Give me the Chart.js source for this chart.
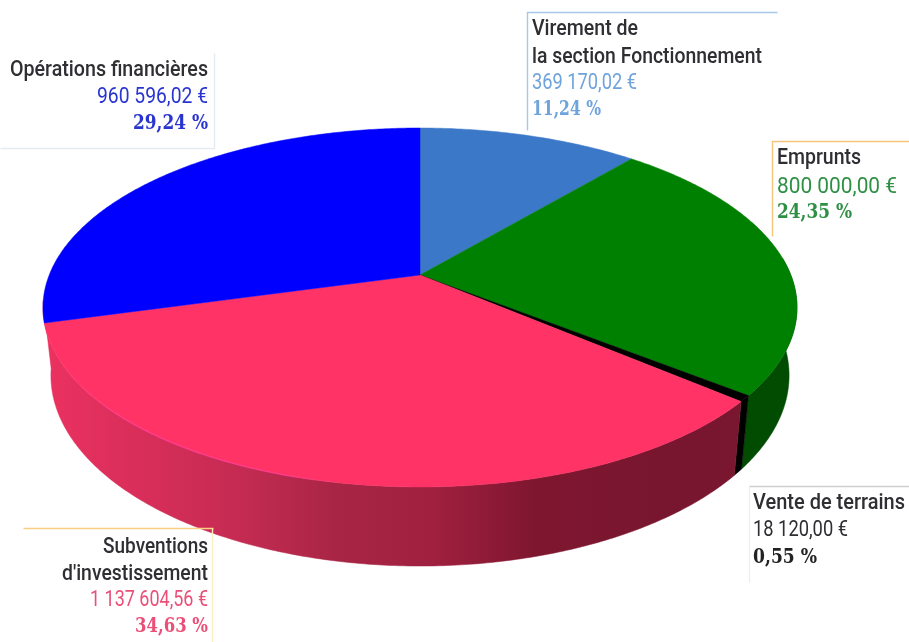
<!DOCTYPE html>
<html lang="fr">
<head>
<meta charset="utf-8">
<title>Recettes d'investissement</title>
<style>html,body{margin:0;padding:0;background:#fff}canvas{display:block}</style>
<script src="https://cdn.jsdelivr.net/npm/chart.js@4"></script>
</head>
<body>
<canvas id="c" width="909" height="642"></canvas>
<script>
const categories = ["Virement de la section Fonctionnement","Emprunts","Vente de terrains","Subventions d'investissement","Opérations financières"];
const values = [369170.02, 800000.00, 18120.00, 1137604.56, 960596.02];
const amountLabels = ["369 170,02 €","800 000,00 €","18 120,00 €","1 137 604,56 €","960 596,02 €"];
const percentLabels = ["11,24 %","24,35 %","0,55 %","34,63 %","29,24 %"];
const sliceColors = ["#3c78c8","#008000","#000000","#ff3366","#0000ff"];
const labelColors = ["#6fa3dc","#2f8f45","#222222","#ea4f78","#2a35d0"];

const nameLines = [["Virement de","la section Fonctionnement"],["Emprunts"],["Vente de terrains"],["Subventions","d'investissement"],["Opérations financières"]];
const labelBoxes = [
  {x:532,align:"left",y:[29,57,83,110],w:[106,230,105,69]},
  {x:777,align:"left",y:[158,187,213],w:[84,120,75]},
  {x:753,align:"left",y:[503,530,558],w:[152,95,64]},
  {x:208,align:"right",y:[547,574,600,627],w:[105,146,118,73]},
  {x:208,align:"right",y:[70,97,124],w:[198,111,75]}
];
const frameLines = [
  {c:"#a8c6ea",p:[[527,130],[527,12],[777,12]]},
  {c:"#f6c67c",p:[[772,236],[772,141],[909,141]]},
  {c:"#cfcfcf",p:[[749,486],[909,486]]},
  {c:"#eeeeee",p:[[749,486],[749,582]]},
  {c:"#f8d083",p:[[23,528],[213,528]]},
  {c:"#fbefc0",p:[[212,528],[212,642]]},
  {c:"#e6ebf2",p:[[0,148],[214,148],[214,53]]}
];
const k = -0.181;
const topPlane = {cx:420,cy:275,a:370.8,b:173.6};
const basePlane = {cx:420,cy:341,a:363,b:184.3};
function project(plane,t){
  const u=Math.sin(t), v=-Math.cos(t), d=1+k*v;
  return [plane.cx+plane.a*u/d, plane.cy+plane.b*v/d];
}
function arcPoints(plane,a0,a1){
  const n=Math.max(2,Math.ceil(Math.abs(a1-a0)/0.01)), pts=[];
  for(let i=0;i<=n;i++) pts.push(project(plane,a0+(a1-a0)*i/n));
  return pts;
}
function tracePts(ctx,pts,move){
  pts.forEach((p,i)=>{ if(i===0&&move) ctx.moveTo(p[0],p[1]); else ctx.lineTo(p[0],p[1]); });
}
const redStops=[[50,"#ea3160"],[243,"#c42b52"],[333,"#a92546"],[433,"#a0203f"],[533,"#7f1630"],[683,"#78162f"],[745,"#7a1630"]];
const pie3d = {
  id:"pie3d",
  beforeDatasetsDraw(chart){
    const ctx=chart.ctx, arcs=chart.getDatasetMeta(0).data;
    const ang=arcs.map(a=>[a.startAngle+Math.PI/2,a.endAngle+Math.PI/2]);
    ctx.save();
    const wall=(a0,a1,fill)=>{
      ctx.beginPath();
      tracePts(ctx,arcPoints(topPlane,a0,a1),true);
      tracePts(ctx,arcPoints(basePlane,a1,a0),false);
      ctx.closePath(); ctx.fillStyle=fill; ctx.strokeStyle=fill; ctx.lineWidth=0.5; ctx.fill(); ctx.stroke();
    };
    const g=ctx.createLinearGradient(50,0,745,0);
    redStops.forEach(s=>g.addColorStop((s[0]-50)/695,s[1]));
    wall(Math.PI/2-0.1,ang[1][1],"#014c01");
    wall(ang[2][0],ang[2][1],"#000000");
    wall(ang[3][0],ang[3][1]+0.12,g);
    arcs.forEach((a,i)=>{
      ctx.beginPath();
      ctx.moveTo(topPlane.cx,topPlane.cy);
      tracePts(ctx,arcPoints(topPlane,ang[i][0],ang[i][1]),false);
      ctx.closePath();
      ctx.fillStyle=a.options.backgroundColor; ctx.strokeStyle=a.options.backgroundColor; ctx.lineWidth=0.5;
      ctx.fill(); ctx.stroke();
    });
    const h=ctx.createLinearGradient(60,0,340,0);
    h.addColorStop(0,"rgba(255,70,150,0)"); h.addColorStop(.3,"rgba(255,60,150,.75)");
    h.addColorStop(.8,"rgba(255,60,150,.6)"); h.addColorStop(1,"rgba(255,60,150,0)");
    ctx.beginPath();
    tracePts(ctx,arcPoints(topPlane,190*Math.PI/180,245*Math.PI/180),true);
    ctx.strokeStyle=h; ctx.lineWidth=1.5; ctx.stroke();
    ctx.restore();
    return false;
  },
  afterDraw(chart){
    const ctx=chart.ctx;
    ctx.save();
    frameLines.forEach(f=>{
      ctx.beginPath(); tracePts(ctx,f.p.map(p=>[p[0]+.5,p[1]+.5]),true);
      ctx.strokeStyle=f.c; ctx.lineWidth=1.4; ctx.stroke();
    });
    ctx.textBaseline="middle";
    categories.forEach((_,i)=>{
      const b=labelBoxes[i]; let r=0;
      ctx.textAlign=b.align;
      ctx.font='500 22px Roboto,sans-serif';
      ctx.fillStyle="#2e2e33";
      nameLines[i].forEach(t=>{ctx.fillText(t,b.x,b.y[r],b.w[r]);r++;});
      ctx.font='400 22px Roboto,sans-serif';
      ctx.fillStyle=i===2?"#2e2e33":labelColors[i];
      ctx.fillText(amountLabels[i],b.x,b.y[r],b.w[r]);r++;
      ctx.font='bold 20px "DejaVu Serif",serif';
      ctx.fillStyle=labelColors[i];
      ctx.fillText(percentLabels[i],b.x,b.y[r],b.w[r]);
    });
    ctx.restore();
  }
};
new Chart(document.getElementById("c"),{
  type:"pie",
  data:{labels:categories,datasets:[{data:values,backgroundColor:sliceColors,borderWidth:0}]},
  options:{responsive:false,animation:false,plugins:{legend:{display:false},tooltip:{enabled:false}}},
  plugins:[pie3d]
});
</script>
</body>
</html>
